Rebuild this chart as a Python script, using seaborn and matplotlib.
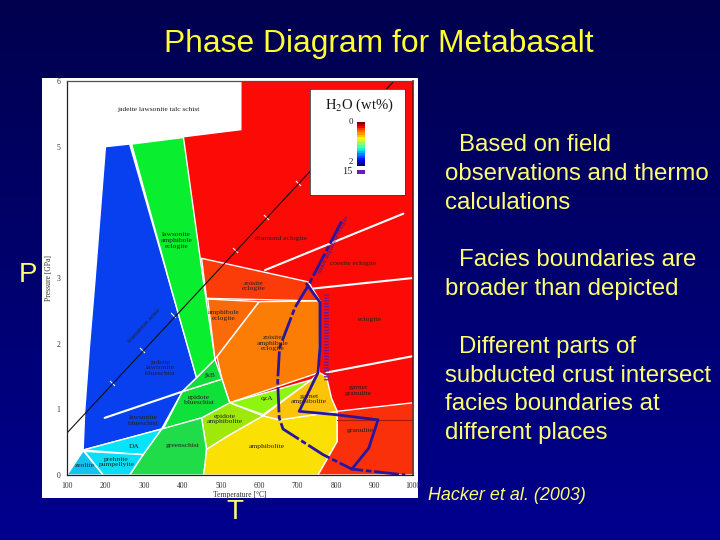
import matplotlib
matplotlib.use("Agg")
import matplotlib.pyplot as plt
import numpy as np
import seaborn as sns
from matplotlib.patches import Rectangle

# Facies fields, (temperature C, pressure GPa)
UPPER_RED = [(403, 5.14), (554, 5.25), (554, 6), (1000, 6), (1000, 0), (455, 0)]
BLUESCHIST = [(142, .38), (146, .97), (159, 2.0), (172, 2.91), (200, 5.0), (263, 5.04),
              (372, 2.82), (437, 1.48), (400, 1.27), (346, .70)]
LAWS_ECLOGITE = [(268, 5.04), (403, 5.14), (455, 2.94), (485, 1.76), (437, 1.48), (372, 2.82)]
ZOISITE_ECL = [(450, 3.3), (728, 2.94), (758, 2.65), (463, 2.69)]
AMPH_ECL = [(466, 2.68), (600, 2.64), (490, 1.8), (485, 1.76)]
ZO_AMPH_ECL = [(600, 2.64), (758, 2.65), (756, 1.56), (523, 1.10), (503, 1.46), (490, 1.8)]
QZA = [(523, 1.10), (736, 1.45), (610, .92)]
EP_AMPH = [(450, .87), (523, 1.10), (610, .90), (523, .61), (463, .39)]
EP_BLUE = [(400, 1.27), (503, 1.46), (523, 1.10), (450, .87), (350, .70)]
JKB = [(400, 1.27), (437, 1.48), (485, 1.76), (503, 1.46)]
GREENSCHIST = [(346, .70), (450, .87), (463, .39), (459, .15), (455, 0), (263, 0), (298, .31)]
AMPHIBOLITE = [(523, .61), (610, .90), (654, .84), (803, .97), (803, .51), (753, 0), (455, 0),
               (459, .15), (463, .39)]
GT_AMPH = [(736, 1.45), (756, 1.56), (775, 1.50), (788, 1.17), (803, .97), (654, .84), (610, .90)]
DA = [(142, .38), (346, .70), (298, .31)]
PREHNITE = [(146, .36), (298, .31), (263, 0), (194, 0)]
ZEOLITE = [(142, .37), (194, 0), (100, 0)]
GRANULITE = [(803, .97), (1000, 1.1), (1000, 0), (753, 0), (803, .51)]

FIELDS = [UPPER_RED, BLUESCHIST, LAWS_ECLOGITE, ZOISITE_ECL, AMPH_ECL, ZO_AMPH_ECL, QZA, EP_AMPH,
          EP_BLUE, JKB, GREENSCHIST, AMPHIBOLITE, GT_AMPH, DA, PREHNITE, ZEOLITE, GRANULITE]
FIELD_COLORS = ["#fc0a06", "#0840f0", "#0aee30", "#fb3c08", "#fb6a08", "#fb7d06", "#8ef510", "#9fe80a",
                "#10e03a", "#12dc38", "#20dc48", "#fbe004", "#fbc408", "#06e4fa", "#08def8", "#10c4ee", "#fa300a"]

# White boundaries that are not field edges
BOUNDARIES = [
    ([741, 1000], [2.84, 3.0]),
    ([615, 975], [3.12, 3.98]),
    ([775, 1000], [1.56, 1.81]),
    ([198, 400], [.87, 1.27]),
]

# Faint dark line across the granulite field
GRANULITE_LINE_T = [803, 1000]
GRANULITE_LINE_P = [.84, .84]

# Black diagonal with its ticks
DIAG_T = [100, 949]
DIAG_P = [.64, 5.99]
DIAG_TICK_T = [133, 216, 294, 377, 537, 618, 700]
DIAG_TICK_P = [.88, 1.40, 1.91, 2.44, 3.43, 3.93, 4.44]

# Geotherm paths
COLD_T = [814, 728, 693, 653, 648, 652, 662, 766, 841, 980]
COLD_P = [3.86, 2.89, 2.55, 1.94, 1.43, .87, .70, .31, .09, 0]
HOT_T = [723, 758, 758, 753, 704, 797, 909, 885, 841]
HOT_P = [2.91, 2.63, 1.94, 1.56, .97, .92, .84, .41, .09]
LADDER_T = [774, 774]
LADDER_P = [2.76, 1.43]

FIELD_LABELS = [
    ("jadeite lawsonite talc schist", 337, 5.57), ("lawsonite\namphibole\neclogite", 385, 3.57),
    ("diamond eclogite", 658, 3.6), ("coesite eclogite", 845, 3.22), ("zoisite\neclogite", 585, 2.88),
    ("amphibole\neclogite", 507, 2.43), ("zoisite\namphibole\neclogite", 636, 2.01), ("eclogite", 888, 2.37),
    ("jadeite\nlawsonite\nblueschist", 342, 1.63), ("jkB", 470, 1.52), ("epidote\nblueschist", 444, 1.14),
    ("lawsonite\nblueschist", 298, .83), ("DA", 274, .44), ("greenschist", 401, .45),
    ("prehnite\npumpellyite", 229, .2), ("zeolite", 145, .14), ("epidote\namphibolite", 511, .85),
    ("qzA", 619, 1.17), ("garnet\namphibolite", 729, 1.16), ("amphibolite", 620, .43),
    ("garnet\ngranulite", 858, 1.29), ("granulite", 862, .68),
]

T_TICKS = [100, 200, 300, 400, 500, 600, 700, 800, 900, 1000]
P_TICKS = [0, 1, 2, 3, 4, 5, 6]
P_TICK_LABELS = ["0", "1", "2", "3", "", "5", "6"]

H2O_LEVELS = [0, .1, .2, .3, .4, .5, .6, .7, .8, .9, 1.0, 1.1, 1.2, 1.3, 1.4, 1.5, 1.6, 1.7, 1.8, 1.9, 2.0]

NOTES = [
    ("Based on field", 459, 145), ("observations and thermo", 445, 174), ("calculations", 445, 203),
    ("Facies boundaries are", 459, 260), ("broader than depicted", 445, 289),
    ("Different parts of", 459, 347), ("subducted crust intersect", 445, 376),
    ("facies boundaries at", 445, 404), ("different places", 445, 433),
]

W, H = 720, 540
YELLOW = "#ffff70"
PURPLE = "#2a169c"


def px_axes(fig, left, top, right, bottom):
    """Axes from pixel edges, origin top left"""
    return fig.add_axes([left / W, 1 - bottom / H, (right - left) / W, (bottom - top) / H])


def draw_line(ax, x, y, **kw):
    sns.lineplot(x=x, y=y, sort=False, estimator=None, ax=ax, legend=False, **kw)


sns.set_style("white")
plt.rcParams["font.family"] = ["Liberation Sans", "DejaVu Sans"]
SERIF = "Liberation Serif"

fig = plt.figure(figsize=(7.2, 5.4), dpi=100)

# Slide background
bg = fig.add_axes([0, 0, 1, 1])
bg.imshow(np.linspace(0, 1, 256).reshape(-1, 1), extent=(0, W, H, 0), aspect="auto",
          cmap=matplotlib.colors.LinearSegmentedColormap.from_list("slide", ["#00004e", "#00008e"]))
bg.add_patch(Rectangle((42, 78), 376, 420, fc="white", ec="none"))
bg.set_xlim(0, W)
bg.set_ylim(H, 0)
bg.axis("off")

bg.text(379, 44, "Phase Diagram for Metabasalt", color="#ffff30", fontsize=22.9, ha="center", va="center")
for line, x, y in NOTES:
    bg.text(x, y, line, color=YELLOW, fontsize=17.25, ha="left", va="center")
bg.text(428, 495, "Hacker et al. (2003)", color=YELLOW, fontsize=12.9, style="italic", ha="left", va="center")
bg.text(28, 275, "P", color=YELLOW, fontsize=20, ha="center", va="center")
bg.text(235, 512, "T", color=YELLOW, fontsize=20, ha="center", va="center")

# Phase diagram
ax = px_axes(fig, 67, 81, 413, 475)
ax.patch.set_alpha(0)
for verts, color in zip(FIELDS, FIELD_COLORS):
    xs, ys = zip(*verts)
    ax.fill(xs, ys, facecolor=color, edgecolor="white" if verts is not UPPER_RED else "none", lw=1.0)

for xs, ys in BOUNDARIES:
    draw_line(ax, xs, ys, color="white", lw=1.5)
draw_line(ax, GRANULITE_LINE_T, GRANULITE_LINE_P, color="#b01808", lw=0.8)

draw_line(ax, DIAG_T, DIAG_P, color="#101010", lw=0.8)
sns.scatterplot(x=DIAG_TICK_T, y=DIAG_TICK_P, marker=(2, 0, 45), s=26, color="#101010",
                linewidth=0.8, ax=ax, legend=False)

draw_line(ax, COLD_T, COLD_P, color=PURPLE, lw=2.0, linestyle=(0, (9, 1, 2, 1)))
draw_line(ax, HOT_T, HOT_P, color=PURPLE, lw=2.0)
draw_line(ax, LADDER_T, LADDER_P, color="#5a1ca8", lw=3.5, linestyle=(0, (0.25, 0.35)))

for label, t, p in FIELD_LABELS:
    ax.text(t, p, label, family=SERIF, fontsize=5.4, color="#202020", ha="center", va="center", linespacing=1.15)
ax.text(300, 2.28, "transition zone", family=SERIF, fontsize=5.4, color="#202020", rotation=47, ha="center", va="center")
ax.text(795, 3.52, "minor amphibole eclogite", family=SERIF, fontsize=4.4, color="#3a1aa0", rotation=64, ha="center", va="center")

ax.set_xlim(100, 1000)
ax.set_ylim(0, 6)
ax.set_xticks(T_TICKS)
ax.set_yticks(P_TICKS, P_TICK_LABELS)
ax.tick_params(axis="both", labelsize=5.5, length=3.5, width=0.8, pad=1.5, color="#202020", labelcolor="#303030")
for label in ax.get_xticklabels() + ax.get_yticklabels():
    label.set_family(SERIF)
ax.set_xlabel("Temperature [°C]", family=SERIF, fontsize=5.5, color="#303030", labelpad=1)
ax.set_ylabel("Pressure [GPa]", family=SERIF, fontsize=5.5, color="#303030", labelpad=2)
for side in ["left", "bottom", "top"]:
    ax.spines[side].set_visible(True)
    ax.spines[side].set_color("#202020")
    ax.spines[side].set_linewidth(0.9)
ax.spines["top"].set_color("#505050")
ax.spines["right"].set_visible(True)
ax.spines["right"].set_color("#701510")
ax.spines["right"].set_linewidth(1.2)

# H2O key
key = px_axes(fig, 310, 89, 405, 195)
key.set_facecolor("white")
key.set_xticks([])
key.set_yticks([])
for spine in key.spines.values():
    spine.set_visible(True)
    spine.set_color("#404040")
    spine.set_linewidth(0.6)
key.set_xlim(310, 405)
key.set_ylim(195, 89)
key.text(359, 105, "H$_2$O (wt%)", family=SERIF, math_fontfamily="stix", fontsize=10.5, color="#151515", ha="center", va="center")
key.text(353, 122, "0", family=SERIF, fontsize=6.5, color="#202020", ha="right", va="center")
key.text(353, 162, "2", family=SERIF, fontsize=6.5, color="#202020", ha="right", va="center")
key.text(353, 172, "15", family=SERIF, fontsize=7.5, color="#202020", ha="right", va="center")
key.add_patch(Rectangle((357, 170), 8, 4, fc="#6a1cb8", ec="none"))

bar = px_axes(fig, 357, 122, 365, 166)
sns.heatmap(np.array(H2O_LEVELS).reshape(-1, 1), ax=bar, cmap="jet_r", cbar=False,
            xticklabels=False, yticklabels=False)

fig.savefig("out.png", dpi=100)
